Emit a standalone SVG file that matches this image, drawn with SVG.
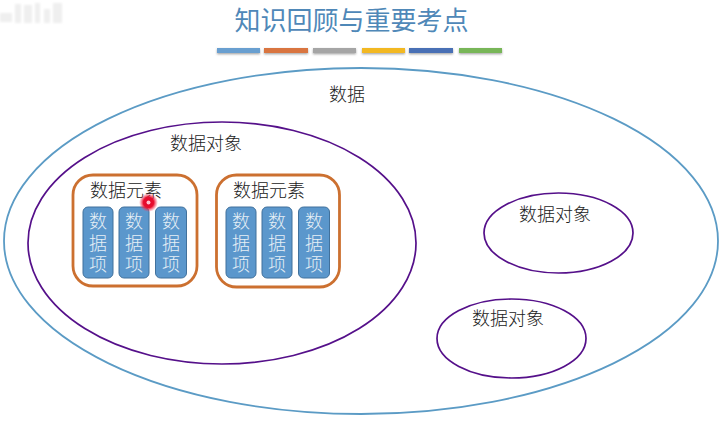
<svg xmlns="http://www.w3.org/2000/svg" width="727" height="446" viewBox="0 0 727 446">
<style>
text{font-family:"Liberation Sans","Noto Sans CJK SC",sans-serif;text-anchor:middle;font-weight:300}
.lab{font-size:18px;fill:#222222}
.set{fill:none;stroke:#55108a;stroke-width:1.700}
.el{fill:none;stroke:#cc7030;stroke-width:2.800}
.it{fill:#5b97cc;stroke:#41719c;stroke-width:1}
.itx{font-size:18px;fill:#e6eff6}
.bar{filter:url(#barshadow)}
</style>
<defs>
<filter id="soft" x="-20%" y="-20%" width="140%" height="140%"><feGaussianBlur stdDeviation="1"/></filter>
<filter id="barshadow" x="-10%" y="-40%" width="120%" height="220%"><feDropShadow dx="0" dy="1.200" stdDeviation="0.800" flood-color="#666666" flood-opacity="0.6"/></filter>
<radialGradient id="dot"><stop offset="0" stop-color="#e0002a"/><stop offset="0.55" stop-color="#e8102f"/><stop offset="1" stop-color="#ff4060" stop-opacity="0"/></radialGradient>
</defs>
<rect width="727" height="446" fill="#ffffff"/>
<g id="watermark" fill="#efefef" filter="url(#soft)">
<rect x="0" y="13" width="12" height="9"/><rect x="15" y="4" width="6" height="19"/><rect x="24" y="5" width="8" height="18"/><rect x="35" y="3" width="5" height="20"/><rect x="44" y="9" width="6" height="14"/><rect x="53" y="3" width="9" height="20"/>
</g>
<g id="title"><text x="351.500" y="30" style="font-size:26px;fill:#4f88b8;font-weight:400">知识回顾与重要考点</text></g>
<g id="title-bars">
<rect class="bar" x="217" y="48" width="43" height="5" fill="#699fd0"/>
<rect class="bar" x="264" y="48" width="44" height="5" fill="#d9743f"/>
<rect class="bar" x="313" y="48" width="43" height="5" fill="#a5a5a5"/>
<rect class="bar" x="362" y="48" width="43" height="5" fill="#f2b820"/>
<rect class="bar" x="409" y="48" width="44" height="5" fill="#4a6fb5"/>
<rect class="bar" x="459" y="48" width="43" height="5" fill="#78b659"/>
</g>
<g id="data">
<ellipse cx="361" cy="241" rx="357" ry="173" fill="none" stroke="#5b9bc5" stroke-width="1.800"/>
<text class="lab" x="347" y="101">数据</text>
</g>
<g id="object-1">
<ellipse class="set" cx="222" cy="243" rx="194" ry="121"/>
<text class="lab" x="206" y="150">数据对象</text>
</g>
<g id="object-2">
<ellipse class="set" cx="558.500" cy="233" rx="74.500" ry="40"/>
<text class="lab" x="555" y="221">数据对象</text>
</g>
<g id="object-3">
<ellipse class="set" cx="511.500" cy="338.500" rx="74.500" ry="39.500"/>
<text class="lab" x="508" y="325">数据对象</text>
</g>
<g id="element-1">
<rect class="el" x="73" y="175" width="124" height="111" rx="20"/>
<text class="lab" x="126" y="197">数据元素</text>
</g>
<g id="element-2">
<rect class="el" x="216.500" y="175" width="123" height="112" rx="20"/>
<text class="lab" x="269" y="197">数据元素</text>
</g>
<g id="item-1-1"><rect class="it" x="83" y="207" width="30" height="71" rx="5"/><text class="itx" x="98" y="228">数</text><text class="itx" x="98" y="250">据</text><text class="itx" x="98" y="271">项</text></g>
<g id="item-1-2"><rect class="it" x="119" y="207" width="30" height="71" rx="5"/><text class="itx" x="134" y="228">数</text><text class="itx" x="134" y="250">据</text><text class="itx" x="134" y="271">项</text></g>
<g id="item-1-3"><rect class="it" x="155.500" y="207" width="31" height="71" rx="5"/><text class="itx" x="171" y="228">数</text><text class="itx" x="171" y="250">据</text><text class="itx" x="171" y="271">项</text></g>
<g id="item-2-1"><rect class="it" x="226" y="207" width="30" height="71" rx="5"/><text class="itx" x="241" y="228">数</text><text class="itx" x="241" y="250">据</text><text class="itx" x="241" y="271">项</text></g>
<g id="item-2-2"><rect class="it" x="262" y="207" width="30" height="71" rx="5"/><text class="itx" x="277" y="228">数</text><text class="itx" x="277" y="250">据</text><text class="itx" x="277" y="271">项</text></g>
<g id="item-2-3"><rect class="it" x="298.500" y="207" width="31" height="71" rx="5"/><text class="itx" x="314" y="228">数</text><text class="itx" x="314" y="250">据</text><text class="itx" x="314" y="271">项</text></g>
<g id="pointer"><circle cx="148.500" cy="202.500" r="9.500" fill="url(#dot)"/><circle cx="148.500" cy="202.500" r="2" fill="#ffc0cc"/></g>
<g id="connectors"></g>
</svg>
